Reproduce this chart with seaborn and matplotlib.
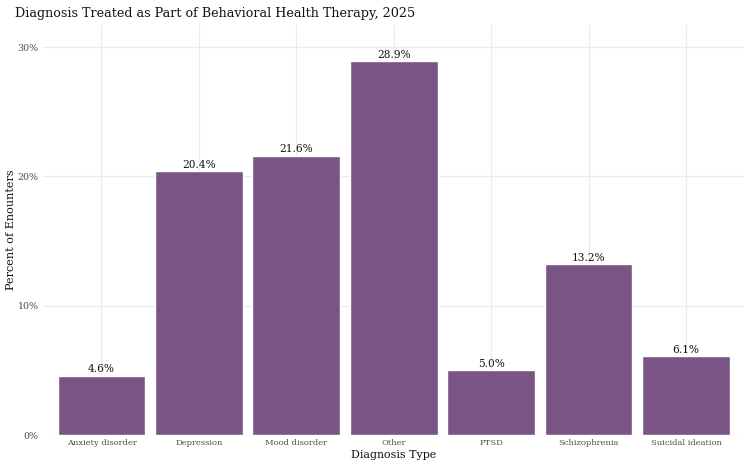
import matplotlib
matplotlib.use("Agg")
import matplotlib.pyplot as plt
import seaborn as sns
import pandas as pd
from matplotlib.ticker import FuncFormatter

categories = ["Anxiety disorder", "Depression", "Mood disorder", "Other",
              "PTSD", "Schizophrenia", "Suicidal ideation"]
percents = [4.6, 20.4, 21.6, 28.9, 5.0, 13.2, 6.1]

df = pd.DataFrame({"diagnosis": categories, "pct": percents})

sns.set_theme(style="whitegrid")
plt.rcParams["font.family"] = ["DejaVu Serif"]

fig = plt.figure(figsize=(7.51, 4.68), dpi=100)
ax = fig.add_axes([0.0573, 0.0705, 0.934, 0.876])

sns.barplot(data=df, x="diagnosis", y="pct", color="#7A5485", saturation=1,
            width=0.9, ax=ax, zorder=2)

# value labels on top of each bar
for i, v in enumerate(percents):
    ax.text(i, v + 0.12, f"{v:.1f}%", ha="center", va="bottom",
            fontsize=7.6, color="#111111")

ax.set_xlim(-0.6, 6.6)
ax.set_ylim(0, 31.7)
ax.set_yticks([0, 10, 20, 30])
ax.yaxis.set_major_formatter(FuncFormatter(lambda y, _: f"{y:.0f}%"))
ax.grid(True, color="#EBEBEB", linewidth=0.8)
ax.set_axisbelow(True)
for s in ax.spines.values():
    s.set_visible(False)
ax.tick_params(axis="both", length=0, colors="#4D4D4D", pad=3)
ax.tick_params(axis="x", labelsize=6.0)
ax.tick_params(axis="y", labelsize=6.8)

ax.set_xlabel("Diagnosis Type", fontsize=7.9, color="#111111", labelpad=2)
ax.set_ylabel("Percent of Enounters", fontsize=8.1, color="#111111", labelpad=1.5)
fig.text(0.02, 0.985, "Diagnosis Treated as Part of Behavioral Health Therapy, 2025",
         fontsize=9.2, color="#111111", ha="left", va="top")

fig.savefig("out.png", dpi=100, facecolor="white")
